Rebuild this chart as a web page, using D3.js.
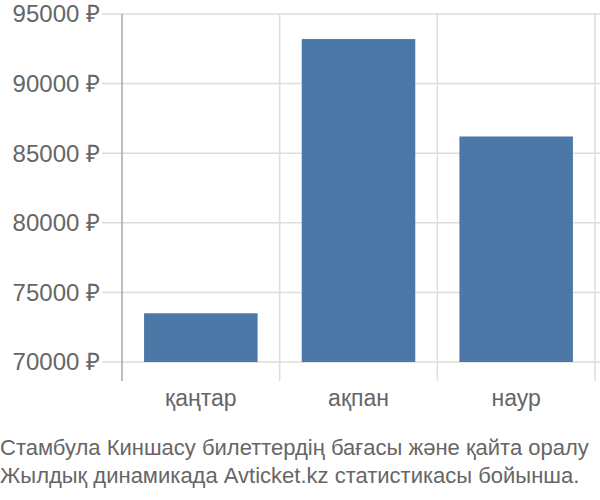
<!DOCTYPE html>
<html><head><meta charset="utf-8">
<script src="https://cdn.jsdelivr.net/npm/d3@7"></script>
<style>body{margin:0;background:#fff;} svg{display:block;font-family:"Liberation Sans",Arial,sans-serif;}</style>
</head><body>
<svg id="chart" width="600" height="500"></svg>
<script>
const categories = ["қаңтар", "ақпан", "наур"];
const values = [73500, 93200, 86200];
const yTicks = [70000, 75000, 80000, 85000, 90000, 95000];
const titleLines = ["Стамбула Киншасу билеттердің бағасы және қайта оралу", "Жылдық динамикада Avticket.kz статистикасы бойынша."];

(function () {
const svg = d3.select("#chart");
const pLeft = 122, pRight = 595, pTop = 14, pBottom = 362;
const y = d3.scaleLinear().domain([70000, 95000]).range([pBottom, pTop]);
const x = d3.scaleBand().domain(categories).range([pLeft, pRight]).paddingInner(0.28).paddingOuter(0.14);

// gridlines
svg.append("g").selectAll("line").data(yTicks).join("line")
  .attr("x1", 102).attr("x2", 600)
  .attr("y1", d => y(d)).attr("y2", d => y(d))
  .attr("stroke", "#dddddd").attr("stroke-width", 1.5);

// category separators
const step = x.step();
const seps = categories.map((c, i) => pLeft + step * (i + 1));
svg.append("g").selectAll("line").data(seps).join("line")
  .attr("x1", d => d).attr("x2", d => d)
  .attr("y1", pTop).attr("y2", 381)
  .attr("stroke", "#dddddd").attr("stroke-width", 1.5);

// bars
svg.append("g").selectAll("rect").data(values).join("rect")
  .attr("x", (d, i) => x(categories[i]))
  .attr("width", x.bandwidth())
  .attr("y", d => y(d))
  .attr("height", d => pBottom - y(d))
  .attr("fill", "#4c78a8");

// y axis line
svg.append("line").attr("x1", pLeft).attr("x2", pLeft).attr("y1", pTop).attr("y2", 381)
  .attr("stroke", "#aaaaaa").attr("stroke-width", 1.5);

// y tick labels
svg.append("g").selectAll("text").data(yTicks).join("text")
  .attr("x", 100).attr("y", d => y(d)).attr("dy", "0.35em")
  .attr("text-anchor", "end").attr("fill", "#666").attr("font-size", 24)
  .text(d => d + " ₽");

// x labels
svg.append("g").selectAll("text").data(categories).join("text")
  .attr("x", d => x(d) + x.bandwidth() / 2).attr("y", 406)
  .attr("text-anchor", "middle").attr("fill", "#666").attr("font-size", 23)
  .text(d => d);

// title
svg.append("g").selectAll("text").data(titleLines).join("text")
  .attr("x", 0).attr("y", (d, i) => 455 + i * 28)
  .attr("fill", "#666").attr("font-size", 22)
  .text(d => d);
})();
</script>
</body></html>
